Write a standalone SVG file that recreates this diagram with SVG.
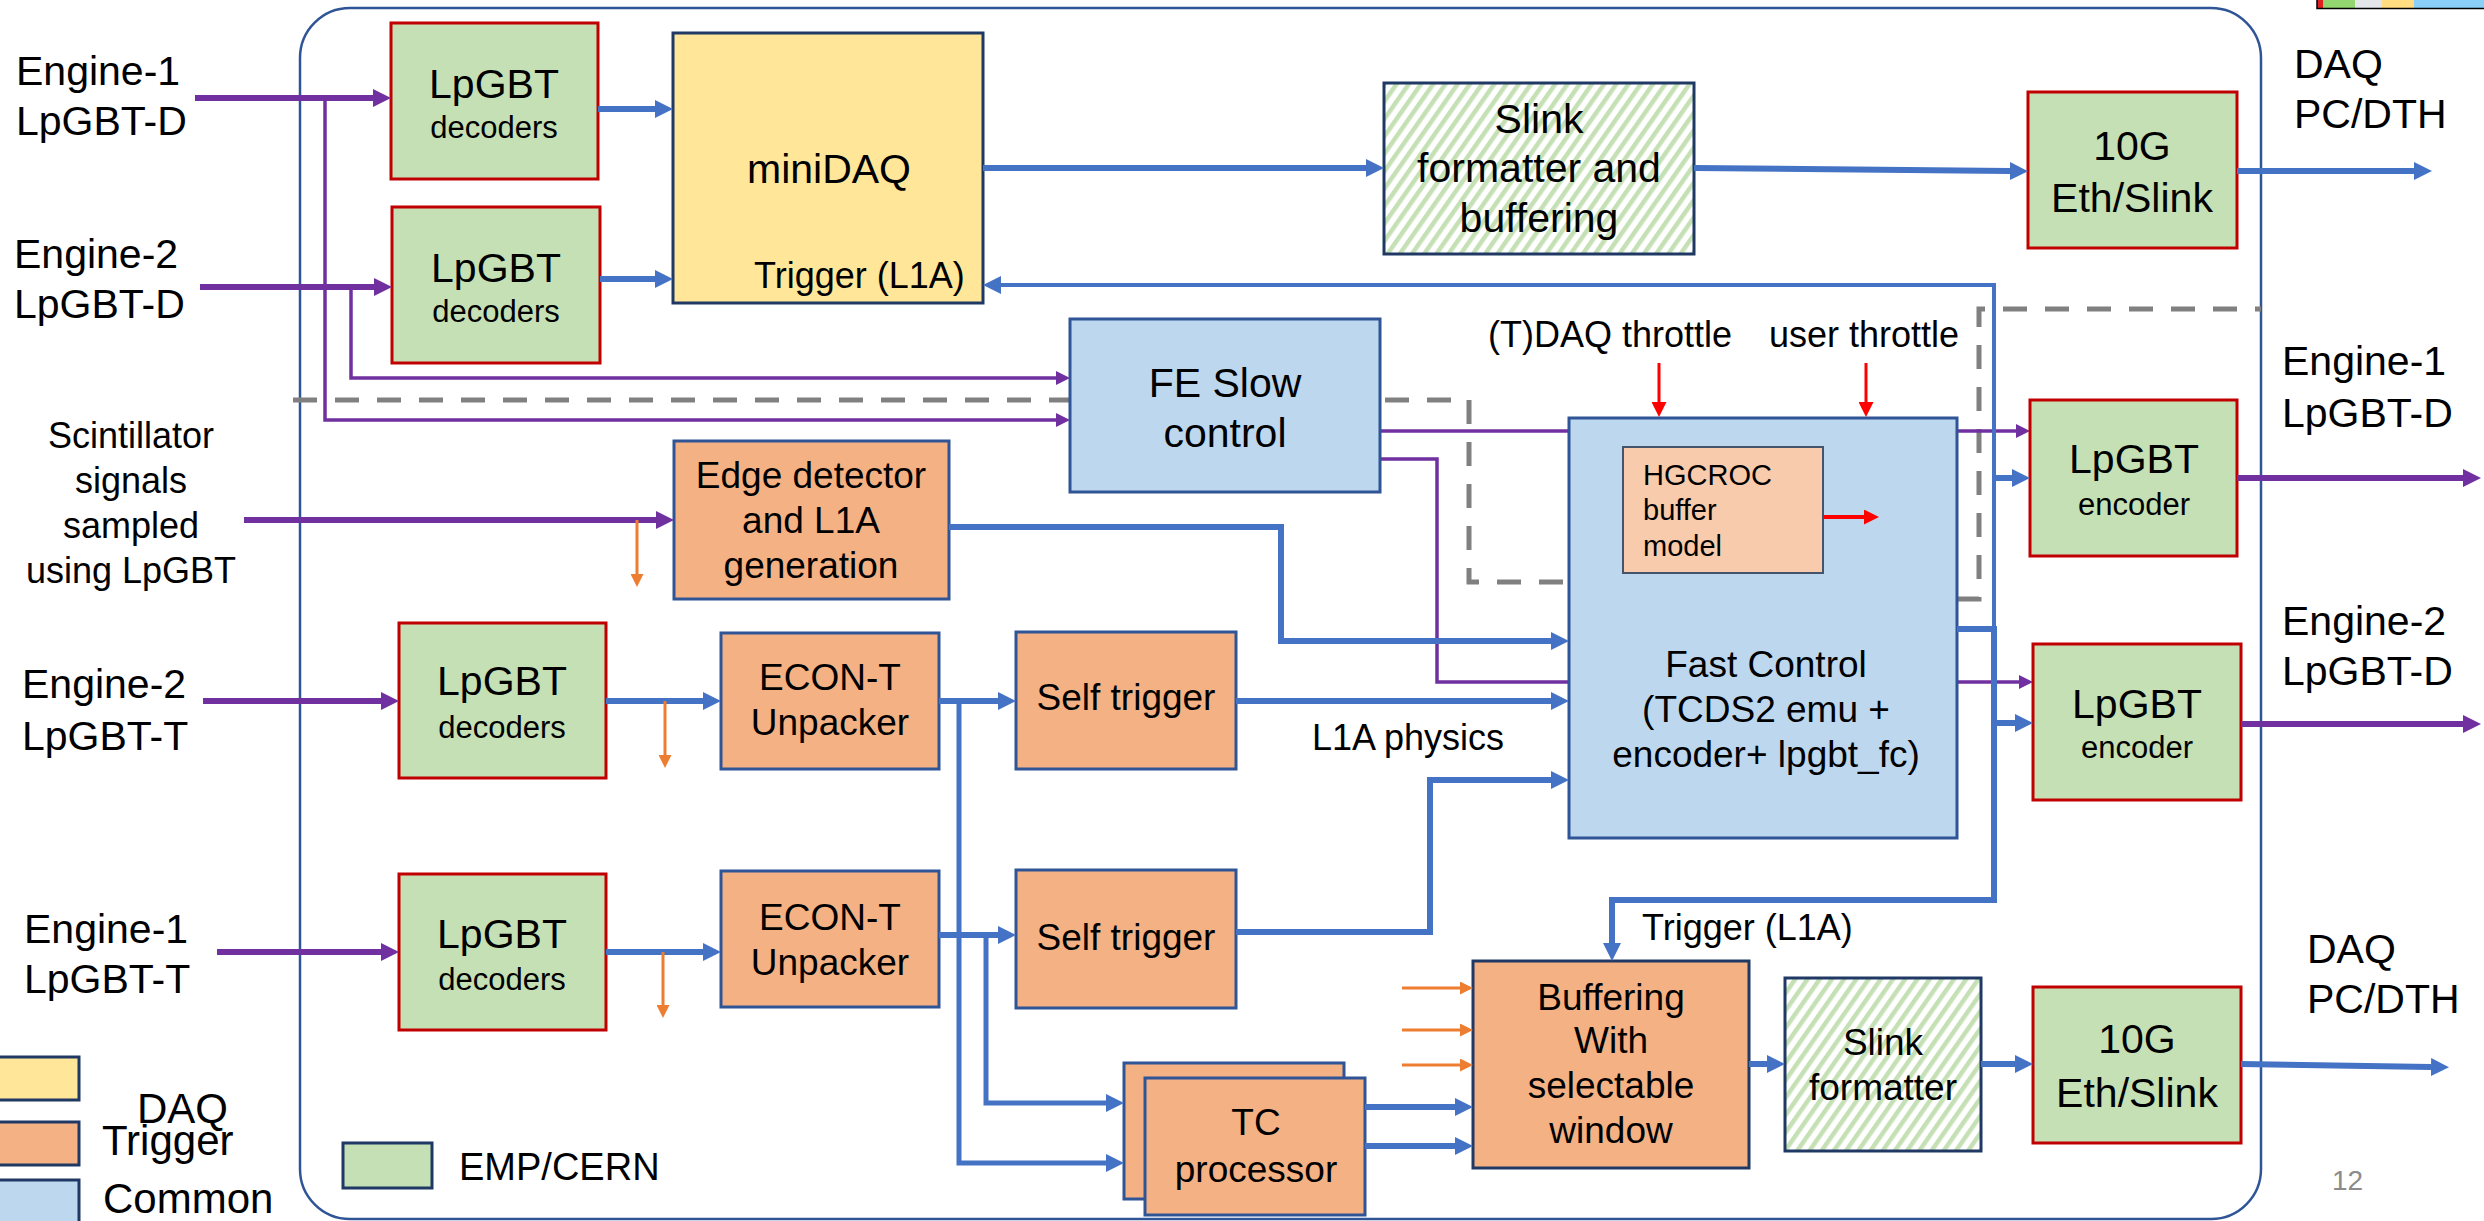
<svg xmlns="http://www.w3.org/2000/svg" width="2484" height="1221" viewBox="0 0 2484 1221">
<style>
text{font-family:"Liberation Sans",Arial,sans-serif;fill:#000}
.c{text-anchor:middle}
.f41{font-size:41px}.f37{font-size:37px}.f36{font-size:36px}.f31{font-size:31px}.f29{font-size:29px}.f42{font-size:42px}.f38{font-size:38px}
.gr{fill:#C5E0B4;stroke:#C00000;stroke-width:3}
.ye{fill:#FFE699;stroke:#1F3864;stroke-width:3}
.or{fill:#F4B183;stroke:#2F5597;stroke-width:3}
.bl{fill:#BDD7EE;stroke:#2F5597;stroke-width:3}
.ha{fill:url(#hatch);stroke:#1F3864;stroke-width:3}
.hg{fill:#F8CBAD;stroke:#44546A;stroke-width:2}
.lg{stroke:#1F3864;stroke-width:3}
.b{fill:none;stroke:#4472C4;stroke-width:6}
.pk{fill:none;stroke:#7030A0;stroke-width:6}
.pt{fill:none;stroke:#7030A0;stroke-width:3.5}
.o{fill:none;stroke:#ED7D31;stroke-width:3}
.r{fill:none;stroke:#FF0000;stroke-width:3}
.d{fill:none;stroke:#808080;stroke-width:5;stroke-dasharray:24 18}
</style>
<defs>
<pattern id="hatch" patternUnits="userSpaceOnUse" width="10" height="10" patternTransform="rotate(35)"><rect width="10" height="10" fill="#fff"/><rect width="4.5" height="10" fill="#C5E0B4"/></pattern>
<marker id="ab" markerUnits="userSpaceOnUse" markerWidth="18" markerHeight="18" refX="0" refY="9" orient="auto"><path d="M0,0L18,9L0,18z" fill="#4472C4"/></marker>
<marker id="ap" markerUnits="userSpaceOnUse" markerWidth="18" markerHeight="18" refX="0" refY="9" orient="auto"><path d="M0,0L18,9L0,18z" fill="#7030A0"/></marker>
<marker id="apt" markerUnits="userSpaceOnUse" markerWidth="14" markerHeight="14" refX="0" refY="7" orient="auto"><path d="M0,0L14,7L0,14z" fill="#7030A0"/></marker>
<marker id="ao" markerUnits="userSpaceOnUse" markerWidth="13" markerHeight="13" refX="0" refY="6.5" orient="auto"><path d="M0,0L13,6.5L0,13z" fill="#ED7D31"/></marker>
<marker id="ar" markerUnits="userSpaceOnUse" markerWidth="15" markerHeight="15" refX="0" refY="7.5" orient="auto"><path d="M0,0L15,7.5L0,15z" fill="#FF0000"/></marker>
</defs>
<rect width="2484" height="1221" fill="#fff"/>

<g id="logo-corner">
<rect x="2317" y="0" width="6" height="8" fill="#E02020"/>
<rect x="2323" y="0" width="32" height="8" fill="#93D56E"/>
<rect x="2355" y="0" width="27" height="8" fill="#E3E5E8"/>
<rect x="2382" y="0" width="32" height="8" fill="#FFDD80"/>
<rect x="2414" y="0" width="70" height="8" fill="#89CFF8"/>
<path d="M2317,0V8.5H2484" fill="none" stroke="#000" stroke-width="1.5"/>
</g>

<g id="frame"><rect x="300" y="8" width="1961" height="1211" rx="50" fill="none" stroke="#2F5597" stroke-width="2.5"/></g>

<g id="connectors-under">
<path class="d" d="M293,400H1469V582H1569"/>
<path class="d" d="M1957,599H1979V309H2261"/>
<path class="pt" marker-end="url(#apt)" d="M1380,431H2016"/>
<path class="pt" marker-end="url(#apt)" d="M1380,459H1437V682H2019"/>
</g>

<g id="dec1"><rect class="gr" x="391" y="23" width="207" height="156"/><text class="c f41" x="494" y="98">LpGBT</text><text class="c f31" x="494" y="138">decoders</text></g>
<g id="dec2"><rect class="gr" x="392" y="207" width="208" height="156"/><text class="c f41" x="496" y="282">LpGBT</text><text class="c f31" x="496" y="322">decoders</text></g>
<g id="minidaq"><rect class="ye" x="673" y="33" width="310" height="270"/><text class="c f41" x="829" y="183">miniDAQ</text><text class="f36" x="754" y="288">Trigger (L1A)</text></g>
<g id="slink-top"><rect class="ha" x="1384" y="83" width="310" height="171"/><text class="c f41" x="1539"><tspan x="1539" y="133">Slink</tspan><tspan x="1539" y="182">formatter and</tspan><tspan x="1539" y="232">buffering</tspan></text></g>
<g id="eth-top"><rect class="gr" x="2028" y="92" width="209" height="156"/><text class="c f41" x="2132"><tspan x="2132" y="160">10G</tspan><tspan x="2132" y="212">Eth/Slink</tspan></text></g>
<g id="fe-slow"><rect class="bl" x="1070" y="319" width="310" height="173"/><text class="c f41" x="1225"><tspan x="1225" y="397">FE Slow</tspan><tspan x="1225" y="447">control</tspan></text></g>
<g id="fast-control"><rect class="bl" x="1569" y="418" width="388" height="420"/><text class="c f37" x="1766"><tspan x="1766" y="677">Fast Control</tspan><tspan x="1766" y="722">(TCDS2 emu +</tspan><tspan x="1766" y="767">encoder+ lpgbt_fc)</tspan></text></g>
<g id="hgcroc"><rect class="hg" x="1623" y="447" width="200" height="126"/><text class="f29" x="1643"><tspan x="1643" y="485">HGCROC</tspan><tspan x="1643" y="520">buffer</tspan><tspan x="1643" y="556">model</tspan></text></g>
<g id="enc1"><rect class="gr" x="2030" y="400" width="207" height="156"/><text class="c f41" x="2134" y="473">LpGBT</text><text class="c f31" x="2134" y="515">encoder</text></g>
<g id="enc2"><rect class="gr" x="2033" y="644" width="208" height="156"/><text class="c f41" x="2137" y="718">LpGBT</text><text class="c f31" x="2137" y="758">encoder</text></g>
<g id="edge"><rect class="or" x="674" y="441" width="275" height="158"/><text class="c f37" x="811"><tspan x="811" y="488">Edge detector</tspan><tspan x="811" y="533">and L1A</tspan><tspan x="811" y="578">generation</tspan></text></g>
<g id="dec3"><rect class="gr" x="399" y="623" width="207" height="155"/><text class="c f41" x="502" y="695">LpGBT</text><text class="c f31" x="502" y="738">decoders</text></g>
<g id="econ1"><rect class="or" x="721" y="633" width="218" height="136"/><text class="c f37" x="830"><tspan x="830" y="690">ECON-T</tspan><tspan x="830" y="735">Unpacker</tspan></text></g>
<g id="self1"><rect class="or" x="1016" y="632" width="220" height="137"/><text class="c f37" x="1126" y="710">Self trigger</text></g>
<g id="dec4"><rect class="gr" x="399" y="874" width="207" height="156"/><text class="c f41" x="502" y="948">LpGBT</text><text class="c f31" x="502" y="990">decoders</text></g>
<g id="econ2"><rect class="or" x="721" y="871" width="218" height="136"/><text class="c f37" x="830"><tspan x="830" y="930">ECON-T</tspan><tspan x="830" y="975">Unpacker</tspan></text></g>
<g id="self2"><rect class="or" x="1016" y="870" width="220" height="138"/><text class="c f37" x="1126" y="950">Self trigger</text></g>
<g id="tc"><rect class="or" x="1124" y="1063" width="220" height="136"/><rect class="or" x="1145" y="1078" width="220" height="137"/><text class="c f37" x="1256"><tspan x="1256" y="1135">TC</tspan><tspan x="1256" y="1182">processor</tspan></text></g>
<g id="buffering"><rect class="or" x="1473" y="961" width="276" height="207" style="stroke:#1F3864"/><text class="c f37" x="1611"><tspan x="1611" y="1010">Buffering</tspan><tspan x="1611" y="1053">With</tspan><tspan x="1611" y="1098">selectable</tspan><tspan x="1611" y="1143">window</tspan></text></g>
<g id="slink-bot"><rect class="ha" x="1785" y="978" width="196" height="173"/><text class="c f37" x="1883"><tspan x="1883" y="1055">Slink</tspan><tspan x="1883" y="1100">formatter</tspan></text></g>
<g id="eth-bot"><rect class="gr" x="2033" y="987" width="208" height="156"/><text class="c f41" x="2137"><tspan x="2137" y="1053">10G</tspan><tspan x="2137" y="1107">Eth/Slink</tspan></text></g>

<g id="connectors">
<path class="pk" marker-end="url(#ap)" d="M195,98H373"/>
<path class="pk" marker-end="url(#ap)" d="M200,287H374"/>
<path class="pk" marker-end="url(#ap)" d="M244,520H656"/>
<path class="pk" marker-end="url(#ap)" d="M203,701H381"/>
<path class="pk" marker-end="url(#ap)" d="M217,952H381"/>
<path class="pk" marker-end="url(#ap)" d="M2237,478H2463"/>
<path class="pk" marker-end="url(#ap)" d="M2241,724H2463"/>
<path class="pt" marker-end="url(#apt)" d="M325,98V420H1056"/>
<path class="pt" marker-end="url(#apt)" d="M351,287V378H1056"/>
<path class="b" marker-end="url(#ab)" d="M598,109H655"/>
<path class="b" marker-end="url(#ab)" d="M600,279H655"/>
<path class="b" marker-end="url(#ab)" d="M983,168H1366"/>
<path class="b" marker-end="url(#ab)" d="M1694,168L2010,171"/>
<path class="b" marker-end="url(#ab)" d="M2237,171H2414"/>
<path class="b" d="M1957,629H1994"/>
<path class="b" style="stroke-width:4" marker-end="url(#ab)" d="M1994,632V285H1001"/>
<path class="b" marker-end="url(#ab)" d="M1994,626V900H1612V943"/>
<path class="b" marker-end="url(#ab)" d="M1994,478H2012"/>
<path class="b" marker-end="url(#ab)" d="M1994,723H2015"/>
<path class="b" marker-end="url(#ab)" d="M949,527H1281V641H1551"/>
<path class="b" marker-end="url(#ab)" d="M606,701H703"/>
<path class="b" marker-end="url(#ab)" d="M939,701H998"/>
<path class="b" style="stroke-width:5" marker-end="url(#ab)" d="M959,701V1163H1106"/>
<path class="b" marker-end="url(#ab)" d="M1236,701H1551"/>
<path class="b" marker-end="url(#ab)" d="M606,952H703"/>
<path class="b" marker-end="url(#ab)" d="M939,935H998"/>
<path class="b" style="stroke-width:5" marker-end="url(#ab)" d="M986,935V1103H1106"/>
<path class="b" marker-end="url(#ab)" d="M1236,932H1430V780H1551"/>
<path class="b" marker-end="url(#ab)" d="M1365,1107H1455"/>
<path class="b" marker-end="url(#ab)" d="M1365,1146H1455"/>
<path class="b" marker-end="url(#ab)" d="M1749,1064H1767"/>
<path class="b" marker-end="url(#ab)" d="M1981,1064H2015"/>
<path class="b" marker-end="url(#ab)" d="M2241,1064L2431,1067"/>
<path class="o" marker-end="url(#ao)" d="M637,520V574"/>
<path class="o" marker-end="url(#ao)" d="M665,701V755"/>
<path class="o" marker-end="url(#ao)" d="M663,952V1005"/>
<path class="o" marker-end="url(#ao)" d="M1402,988H1460"/>
<path class="o" marker-end="url(#ao)" d="M1402,1030H1460"/>
<path class="o" marker-end="url(#ao)" d="M1402,1065H1460"/>
<path class="r" marker-end="url(#ar)" d="M1659,363V402"/>
<path class="r" marker-end="url(#ar)" d="M1866,363V402"/>
<path class="r" style="stroke-width:4" marker-end="url(#ar)" d="M1823,517H1864"/>
</g>

<g id="labels">
<text class="f41" x="16"><tspan x="16" y="85">Engine-1</tspan><tspan x="16" y="135">LpGBT-D</tspan></text>
<text class="f41" x="14"><tspan x="14" y="268">Engine-2</tspan><tspan x="14" y="318">LpGBT-D</tspan></text>
<text class="c f36" x="131"><tspan x="131" y="448">Scintillator</tspan><tspan x="131" y="493">signals</tspan><tspan x="131" y="538">sampled</tspan><tspan x="131" y="583">using LpGBT</tspan></text>
<text class="f41" x="22"><tspan x="22" y="698">Engine-2</tspan><tspan x="22" y="750">LpGBT-T</tspan></text>
<text class="f41" x="24"><tspan x="24" y="943">Engine-1</tspan><tspan x="24" y="993">LpGBT-T</tspan></text>
<text class="f41" x="2294"><tspan x="2294" y="78">DAQ</tspan><tspan x="2294" y="128">PC/DTH</tspan></text>
<text class="f41" x="2282"><tspan x="2282" y="375">Engine-1</tspan><tspan x="2282" y="427">LpGBT-D</tspan></text>
<text class="f41" x="2282"><tspan x="2282" y="635">Engine-2</tspan><tspan x="2282" y="685">LpGBT-D</tspan></text>
<text class="f41" x="2307"><tspan x="2307" y="963">DAQ</tspan><tspan x="2307" y="1013">PC/DTH</tspan></text>
<text class="f36" x="1488" y="347">(T)DAQ throttle</text>
<text class="f36" x="1769" y="347">user throttle</text>
<text class="f36" x="1312" y="750">L1A physics</text>
<text class="f36" x="1642" y="940">Trigger (L1A)</text>
<text x="2332" y="1190" style="font-size:28px;fill:#8B8B8B">12</text>
</g>

<g id="legend">
<rect class="lg" x="-2" y="1057" width="81" height="43" fill="#FFE699"/>
<rect class="lg" x="-2" y="1122" width="81" height="43" fill="#F4B183"/>
<rect class="lg" x="-2" y="1180" width="81" height="50" fill="#BDD7EE"/>
<text class="f42" x="137" y="1123">DAQ</text>
<text class="f42" x="102" y="1155">Trigger</text>
<text class="f42" x="103" y="1213">Common</text>
<rect class="lg" x="343" y="1143" width="89" height="45" fill="#C5E0B4"/>
<text class="f38" x="459" y="1180">EMP/CERN</text>
</g>
</svg>
